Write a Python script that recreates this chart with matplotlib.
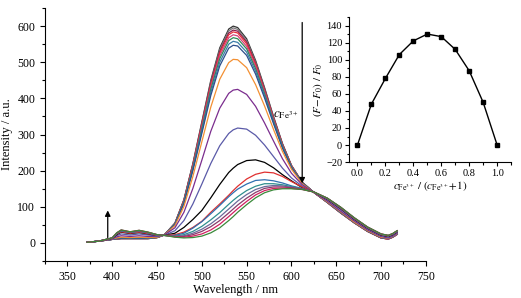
import matplotlib
matplotlib.use("Agg")
import matplotlib.pyplot as plt
from matplotlib.ticker import MultipleLocator

plt.rcParams['font.family'] = ['Liberation Serif', 'DejaVu Serif']
plt.rcParams['mathtext.fontset'] = 'stix'

# emission spectra, wavelength in nm
wavelength = [372, 385, 400, 405, 410, 420, 430, 440, 450, 458, 470, 480, 490, 500, 510, 520, 530, 535,
              540, 550, 560, 570, 580, 590, 600, 612, 625, 640, 655, 670, 685, 700, 708, 713, 718]

s01 = [2, 5, 10, 11, 12, 12, 12, 12, 15, 22, 55, 120, 220, 335, 450, 540, 592, 600, 596, 565, 505, 430, 350, 275, 215, 168, 140, 112, 83, 56, 32, 14, 11, 16, 24]
s02 = [2, 5, 10, 11, 12, 12, 12, 12, 15, 22, 55, 119, 218, 332, 446, 535, 587, 595, 591, 560, 501, 427, 348, 274, 214, 168, 140, 112, 83, 56, 32, 14, 11, 16, 24]
s03 = [2, 5, 10, 11, 12, 12, 12, 12, 15, 22, 54, 118, 216, 329, 442, 530, 581, 589, 586, 556, 497, 424, 346, 273, 214, 168, 140, 112, 83, 56, 32, 14, 11, 16, 24]
s04 = [2, 5, 10, 12, 13, 13, 13, 13, 15, 22, 54, 117, 214, 326, 437, 525, 576, 584, 581, 551, 494, 421, 344, 271, 213, 167, 140, 112, 83, 56, 32, 14, 11, 16, 24]
s05 = [2, 5, 10, 12, 13, 13, 13, 13, 15, 22, 53, 115, 211, 321, 431, 518, 568, 576, 573, 544, 488, 417, 341, 269, 212, 167, 140, 113, 84, 57, 33, 14, 11, 16, 24]
s06 = [2, 5, 10, 12, 13, 13, 13, 13, 15, 22, 53, 114, 208, 316, 425, 510, 560, 568, 565, 537, 482, 413, 338, 268, 211, 167, 140, 113, 84, 57, 33, 15, 12, 17, 25]
s07 = [2, 5, 10, 12, 14, 14, 14, 13, 16, 22, 52, 112, 204, 310, 416, 500, 550, 558, 555, 528, 475, 407, 334, 265, 210, 166, 140, 113, 84, 57, 33, 15, 12, 17, 25]
s08 = [2, 5, 10, 13, 14, 14, 14, 14, 16, 22, 51, 109, 200, 303, 408, 490, 539, 547, 545, 519, 467, 401, 330, 262, 208, 166, 140, 113, 85, 57, 33, 15, 12, 17, 25]
s09 = [2, 5, 11, 14, 16, 15, 16, 15, 16, 22, 48, 101, 184, 280, 376, 453, 499, 508, 507, 485, 438, 379, 314, 253, 204, 164, 140, 114, 86, 58, 34, 16, 13, 18, 26]
s10 = [2, 5, 11, 17, 20, 18, 20, 18, 18, 22, 42, 85, 151, 229, 309, 373, 414, 423, 425, 411, 378, 332, 282, 233, 193, 161, 140, 116, 88, 61, 36, 18, 14, 19, 27]
s11 = [2, 5, 12, 20, 25, 22, 25, 22, 19, 21, 34, 62, 108, 163, 220, 269, 303, 313, 318, 315, 298, 271, 239, 207, 180, 157, 141, 119, 92, 64, 39, 20, 16, 21, 29]
s12 = [2, 5, 13, 23, 30, 26, 29, 25, 21, 21, 27, 43, 65, 90, 125, 162, 195, 207, 217, 228, 230, 223, 208, 189, 172, 153, 141, 121, 95, 66, 41, 22, 18, 23, 31]
s13 = [2, 5, 13, 25, 31, 27, 30, 26, 21, 21, 23, 30, 43, 60, 85, 108, 132, 145, 157, 177, 190, 196, 194, 184, 170, 155, 141, 122, 96, 67, 42, 23, 19, 24, 32]
s14 = [2, 5, 14, 26, 33, 29, 32, 28, 22, 21, 21, 27, 41, 59, 81, 104, 128, 139, 149, 163, 173, 175, 172, 166, 158, 151, 141, 123, 97, 68, 43, 24, 20, 25, 33]
s15 = [2, 5, 14, 27, 34, 29, 33, 28, 22, 21, 19, 23, 32, 46, 64, 84, 107, 118, 128, 145, 157, 164, 164, 161, 156, 150, 141, 123, 98, 69, 43, 24, 20, 25, 33]
s16 = [2, 5, 14, 27, 35, 30, 34, 29, 23, 21, 18, 20, 27, 38, 53, 72, 94, 105, 116, 134, 148, 156, 159, 158, 154, 149, 141, 123, 98, 69, 43, 24, 20, 25, 33]
s17 = [2, 5, 14, 27, 35, 30, 34, 29, 23, 21, 18, 18, 23, 32, 45, 62, 83, 94, 105, 124, 140, 151, 155, 155, 153, 149, 141, 124, 98, 69, 44, 25, 21, 26, 34]
s18 = [2, 5, 14, 28, 36, 31, 35, 30, 23, 21, 17, 16, 19, 25, 36, 52, 73, 84, 95, 115, 133, 145, 151, 152, 151, 148, 141, 124, 99, 70, 44, 25, 21, 26, 34]
s19 = [2, 5, 14, 28, 36, 31, 35, 30, 23, 21, 16, 14, 15, 19, 28, 42, 62, 73, 85, 106, 125, 139, 147, 150, 150, 148, 141, 124, 99, 70, 44, 25, 21, 26, 34]

spectra = [s01, s02, s03, s04, s05, s06, s07, s08, s09, s10,
           s11, s12, s13, s14, s15, s16, s17, s18, s19]
colors = ['#333333', '#7a7a7a', '#8b2252', '#e8303a', '#d4447c', '#2e8b57', '#3b7ca8', '#2d4f8a',
          '#f39033', '#7b2d8e', '#5a5aa8', '#000000', '#e03030', '#2f6fb0', '#2f8f8f', '#6a6a9a',
          '#8a3a6a', '#d02060', '#3a8a3a']

# inset: Job's plot
mole_frac = [0.0, 0.1, 0.2, 0.3, 0.4, 0.5, 0.6, 0.7, 0.8, 0.9, 1.0]
rel_change = [0, 48, 78, 106, 122, 130, 127, 112, 87, 50, 0]

fig = plt.figure(figsize=(5.21, 2.98), dpi=100)
ax = fig.add_axes([0.0864, 0.124, 0.731, 0.849])

for s, c in zip(spectra, colors):
    ax.plot(wavelength, s, color=c, lw=0.9)

ax.set_xlim(325, 750)
ax.set_ylim(-50, 650)
ax.xaxis.set_major_locator(MultipleLocator(50))
ax.xaxis.set_minor_locator(MultipleLocator(25))
ax.yaxis.set_major_locator(MultipleLocator(100))
ax.yaxis.set_minor_locator(MultipleLocator(50))
ax.tick_params(which='major', direction='out', length=3.5, width=0.8, labelsize=8.5)
ax.tick_params(which='minor', direction='out', length=2, width=0.8)
for sp in ['top', 'right']:
    ax.spines[sp].set_visible(False)
ax.set_xlabel('Wavelength / nm', fontsize=9, labelpad=1)
ax.set_ylabel('Intensity / a.u.', fontsize=9, labelpad=3)

arrow = dict(arrowstyle='-|>', color='k', lw=0.9, mutation_scale=8, shrinkA=0, shrinkB=0)
ax.annotate('', xy=(395, 90), xytext=(395, 15), arrowprops=arrow)
ax.annotate('', xy=(612, 165), xytext=(612, 610), arrowprops=arrow)
ax.text(608, 354, r'$c_{\mathrm{Fe}^{3+}}$', fontsize=9.5, ha='right', va='center')

ins = fig.add_axes([0.670, 0.456, 0.311, 0.487])
ins.plot(mole_frac, rel_change, color='k', lw=1, marker='s', ms=3.5)
ins.set_xlim(-0.06, 1.1)
ins.set_ylim(-20, 150)
ins.xaxis.set_major_locator(MultipleLocator(0.2))
ins.xaxis.set_minor_locator(MultipleLocator(0.1))
ins.yaxis.set_major_locator(MultipleLocator(20))
ins.yaxis.set_minor_locator(MultipleLocator(10))
ins.tick_params(which='major', direction='out', length=3, width=0.8, labelsize=7.5, pad=2)
ins.tick_params(which='minor', direction='out', length=1.8, width=0.8)
ins.xaxis.set_major_formatter(plt.FuncFormatter(lambda v, p: f'{v:.1f}'))
for sp in ['top', 'right']:
    ins.spines[sp].set_visible(False)
ins.set_xlabel(r'$c_{\mathrm{Fe}^{3+}}\ /\ (c_{\mathrm{Fe}^{3+}}\!+\!1)$', fontsize=8, labelpad=1)
ins.set_ylabel(r'$(F\!-\!F_0)\ /\ F_0$', fontsize=8, labelpad=1)
ins.patch.set_alpha(0)

fig.savefig('out.png', dpi=100)
